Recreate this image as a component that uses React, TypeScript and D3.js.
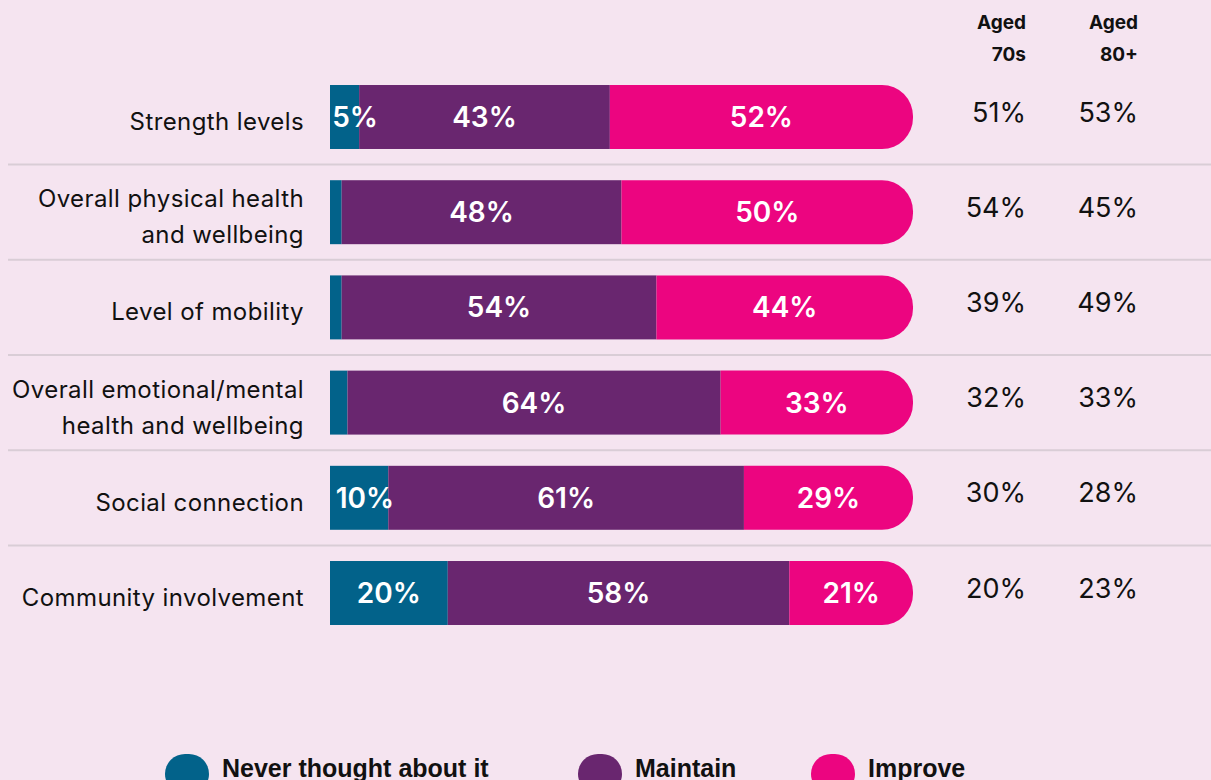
import React from "react";
import * as d3 from "d3";

const categories = [
  ["Strength levels"],
  ["Overall physical health", "and wellbeing"],
  ["Level of mobility"],
  ["Overall emotional/mental", "health and wellbeing"],
  ["Social connection"],
  ["Community involvement"],
];
const neverThought = [5, 2, 2, 3, 10, 20];
const maintain = [43, 48, 54, 64, 61, 58];
const improve = [52, 50, 44, 33, 29, 21];
const aged70s = [51, 54, 39, 32, 30, 20];
const aged80plus = [53, 45, 49, 33, 28, 23];
const seriesNames = ["Never thought about it", "Maintain", "Improve"];
const colHeaders = [["Aged", "70s"], ["Aged", "80+"]];

const COLORS = ["#02628a", "#69266f", "#ec0580"];
const BG = "#f5e4f0";
const W = 1211;
const H = 780;
const FONT = "Inter, 'Noto Sans', sans-serif";

export default function App() {
  const keys = categories.map((c) => c.join(" "));
  const y = d3
    .scaleBand<string>()
    .domain(keys)
    .range([69.4, 69.4 + 6 * 95.2])
    .paddingInner(0.328)
    .paddingOuter(0.164);
  const bw = y.bandwidth();
  const gap = y.step() - bw;
  const x0 = 330;
  const x1 = 913;
  const rows = keys.map((k, i) => {
    const vals = [neverThought[i], maintain[i], improve[i]];
    const total = d3.sum(vals);
    const x = d3.scaleLinear().domain([0, total]).range([x0, x1]);
    let acc = 0;
    const segs = vals.map((v, j) => {
      const s = { v, j, a: x(acc), b: x(acc + v) };
      acc += v;
      return s;
    });
    return { k, i, segs, top: y(k)! };
  });
  const r = 31;
  return (
    <svg
      width={W}
      height={H}
      style={{ position: "absolute", left: 0, top: 0, background: BG }}
    >
      <rect x={0} y={0} width={W} height={H} fill={BG} />
      {colHeaders.map((h, ci) => (
        <text
          key={ci}
          textAnchor="end"
          fontFamily={FONT}
          fontWeight={700}
          fontSize={19}
          fill="#111"
        >
          <tspan x={ci === 0 ? 1026 : 1138} y={29}>{h[0]}</tspan>
          <tspan x={ci === 0 ? 1026 : 1138} y={61}>{h[1]}</tspan>
        </text>
      ))}
      {rows.map((row) => {
        const cy = row.top + bw / 2;
        const lines = categories[row.i];
        return (
          <g key={row.k}>
            {row.i > 0 && (
              <line
                x1={8}
                x2={W}
                y1={row.top - gap / 2}
                y2={row.top - gap / 2}
                stroke="#d9cdd6"
                strokeWidth={2}
              />
            )}
            <text
              textAnchor="end"
              fontFamily={FONT}
              fontSize={24}
              letterSpacing={0.4}
              fill="#111"
              dominantBaseline="middle"
            >
              {lines.map((l, li) => (
                <tspan
                  key={li}
                  x={304}
                  y={cy + 6 + (li - (lines.length - 1) / 2) * 36}
                >
                  {l}
                </tspan>
              ))}
            </text>
            {row.segs.map((s) =>
              s.j === 2 ? (
                <path
                  key={s.j}
                  d={`M${s.a},${row.top}H${s.b - r}A${r},${r} 0 0 1 ${s.b},${
                    row.top + r
                  }V${row.top + bw - r}A${r},${r} 0 0 1 ${s.b - r},${
                    row.top + bw
                  }H${s.a}Z`}
                  fill={COLORS[s.j]}
                />
              ) : (
                <rect
                  key={s.j}
                  x={s.a}
                  y={row.top}
                  width={s.b - s.a}
                  height={bw}
                  fill={COLORS[s.j]}
                />
              )
            )}
            {row.segs.map((s) => {
              if (s.v < 5) return null;
              const label = `${s.v}%`;
              const tw = label.length * 20;
              let cx = (s.a + s.b) / 2;
              if (cx - tw / 2 < s.a + 5) cx = s.a + 5 + tw / 2;
              return (
                <text
                  key={"l" + s.j}
                  x={cx}
                  y={cy}
                  textAnchor="middle"
                  dominantBaseline="central"
                  fontFamily={FONT}
                  fontWeight={600}
                  fontSize={28}
                  fill="#fff"
                >
                  {label}
                </text>
              );
            })}
            {[aged70s[row.i], aged80plus[row.i]].map((v, ci) => (
              <text
                key={"a" + ci}
                x={ci === 0 ? 1026 : 1138}
                y={cy - 5}
                textAnchor="end"
                dominantBaseline="central"
                fontFamily={FONT}
                fontSize={27}
                fill="#111"
              >
                {v}%
              </text>
            ))}
          </g>
        );
      })}
      {seriesNames.map((n, i) => {
        const sx = [165, 578, 811][i];
        return (
          <g key={n}>
            <rect x={sx} y={754} width={44} height={40} rx={20} fill={COLORS[i]} />
            <text
              x={sx + 57}
              y={777}
              fontFamily="'Liberation Sans Narrow', 'Arial Narrow', sans-serif"
              fontWeight={700}
              fontSize={25}
              fill="#111"
            >
              {n}
            </text>
          </g>
        );
      })}
    </svg>
  );
}
